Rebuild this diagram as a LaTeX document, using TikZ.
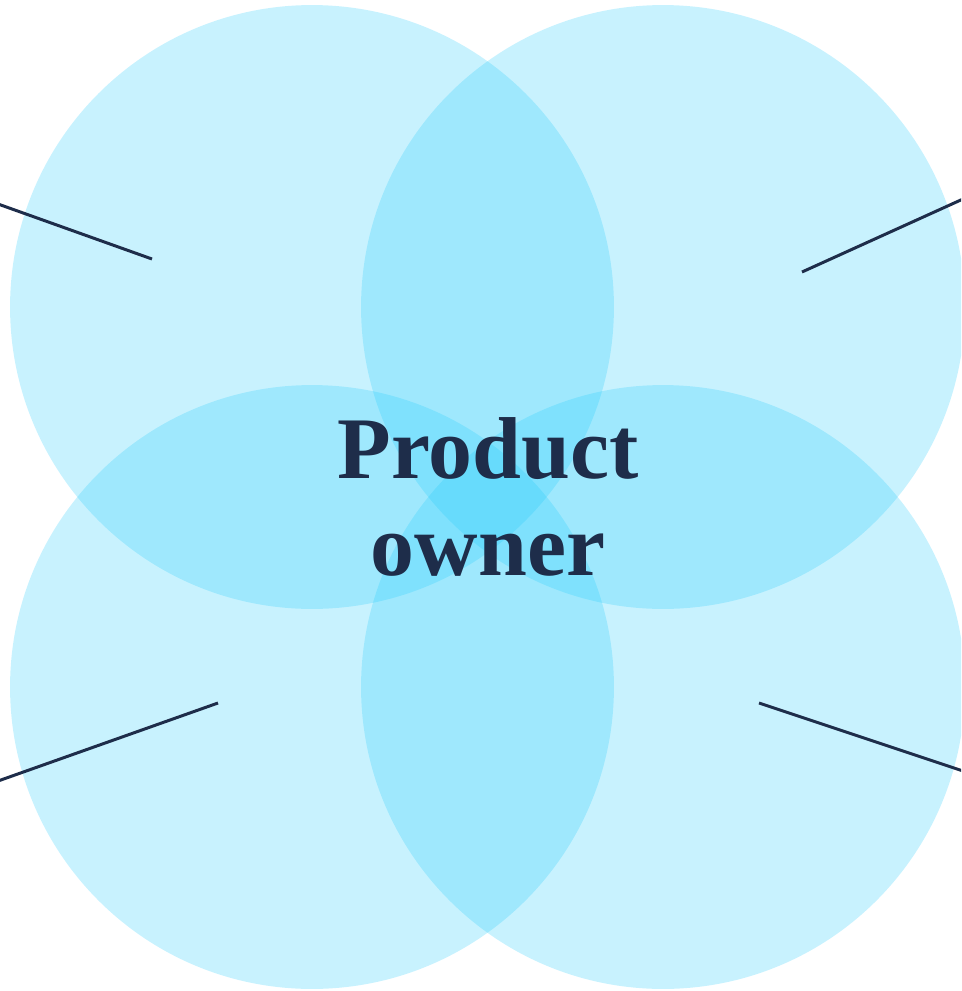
\documentclass[tikz,border=0pt]{standalone}
\usepackage{fontspec}
\setmainfont{Liberation Serif}
\usetikzlibrary{positioning}
\definecolor{bubblecyan}{RGB}{26,201,251}
\definecolor{inkblue}{RGB}{30,45,74}
\begin{document}
\begin{tikzpicture}[x=0.02cm, y=-0.02cm,
            bubble/.style={circle, draw=none, fill=bubblecyan, fill opacity=0.24, minimum size=12.08cm, inner sep=0pt},
            pointer/.style={draw=inkblue, line width=1.7pt},
            title/.style={text=inkblue, font=\fontsize{50}{55}\selectfont\bfseries, align=center}
        ]
            \useasboundingbox (0,0) rectangle (961,991);
            \clip (0,0) rectangle (961,991);
            \node[bubble] (tl) at (312,307) {};
            \node[bubble] (tr) at (663,307) {};
            \node[bubble] (bl) at (312,687) {};
            \node[bubble] (br) at (663,687) {};
            \node[title] (po) at (488,497) {Product\\owner};

            % pointer lines out of each bubble
            \coordinate (tlin) at (152,259);  \coordinate (tlout) at (-2,204);
            \coordinate (trin) at (802,272);  \coordinate (trout) at (963,199);
            \coordinate (blin) at (218,703);  \coordinate (blout) at (-2,781);
            \coordinate (brin) at (759,703);  \coordinate (brout) at (963,771);
            \draw[pointer] (tlin) -- (tlout);
            \draw[pointer] (trin) -- (trout);
            \draw[pointer] (blin) -- (blout);
            \draw[pointer] (brin) -- (brout);
        \end{tikzpicture}
\end{document}
